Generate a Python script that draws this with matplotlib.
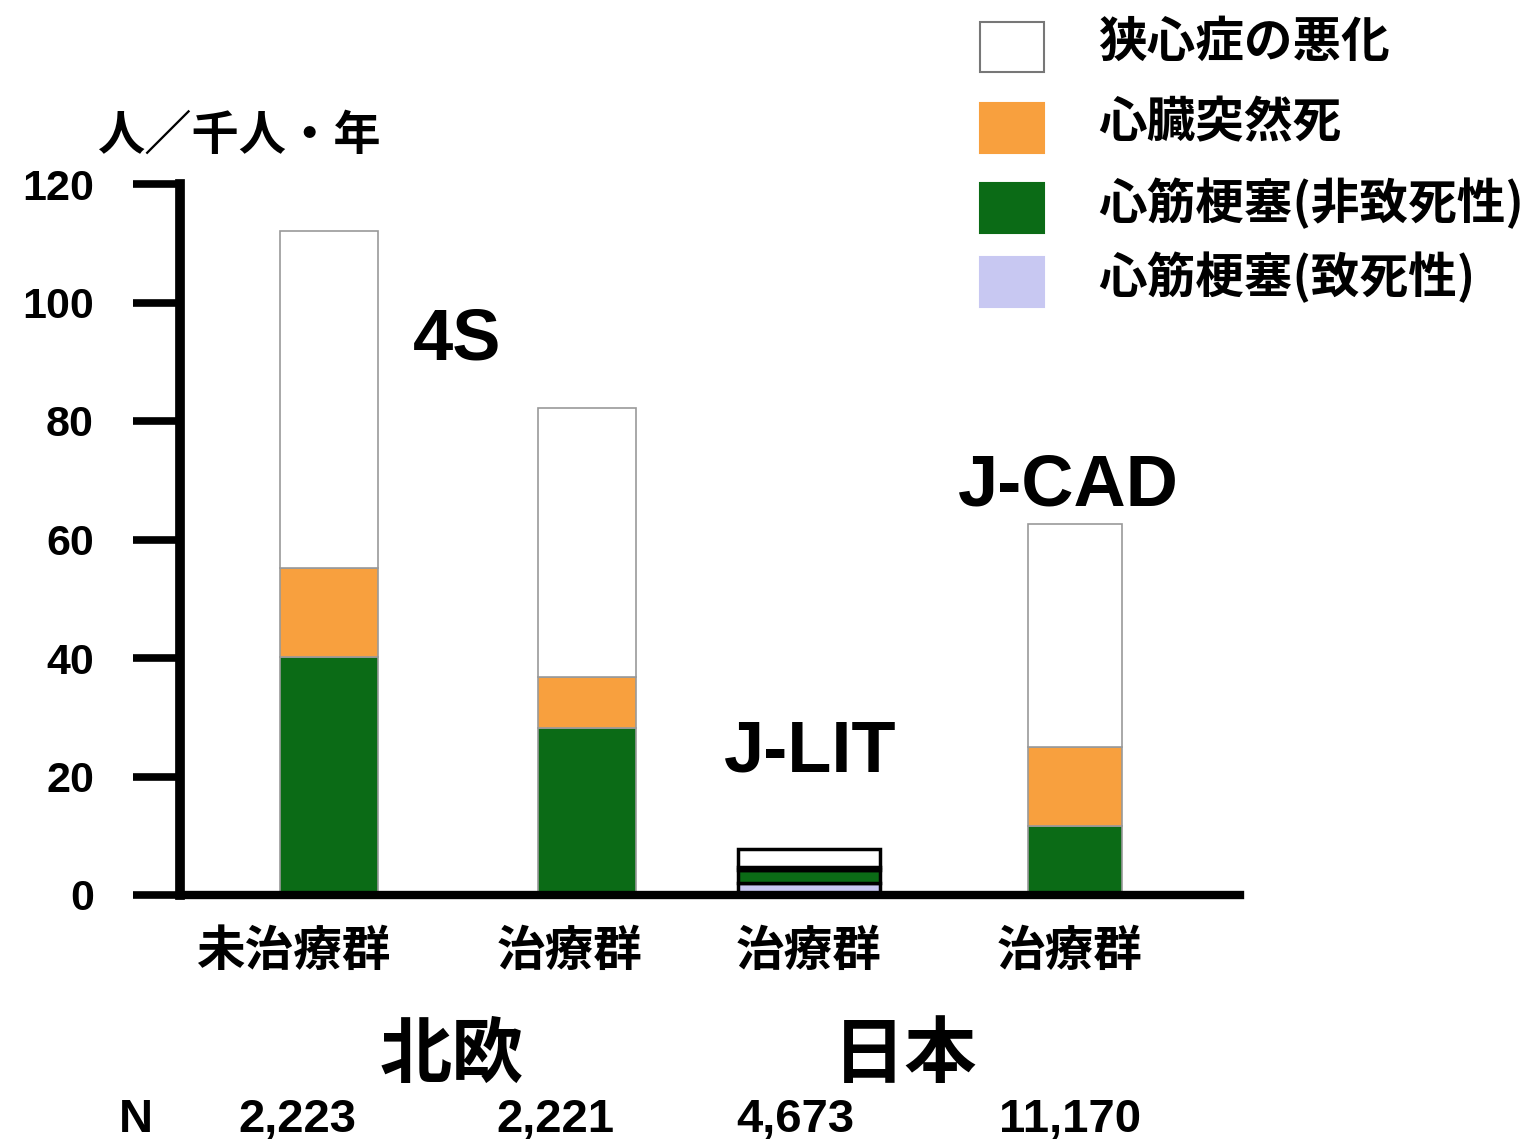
import matplotlib.pyplot as plt

plt.rcParams['font.family'] = ['Noto Sans CJK JP', 'DejaVu Sans']

# 人／千人・年 per event type, stacked bottom to top
groups = ['未治療群', '治療群', '治療群', '治療群']
mi_fatal = [0.0, 0.0, 2.0, 0.0]
mi_nonfatal = [40.2, 28.2, 2.2, 11.6]
sudden_death = [15.0, 8.6, 0.6, 13.4]
angina_worse = [56.9, 45.4, 3.0, 37.6]
n_subjects = ['2,223', '2,221', '4,673', '11,170']

series = [
    ('心筋梗塞(致死性)', mi_fatal, '#c8c8f2'),
    ('心筋梗塞(非致死性)', mi_nonfatal, '#0b6b16'),
    ('心臓突然死', sudden_death, '#f8a03e'),
    ('狭心症の悪化', angina_worse, 'white'),
]

centers = [1.49, 4.07, 6.29, 8.95]
widths = [0.98, 0.98, 1.42, 0.94]
edges = ['#999999', '#999999', 'black', '#999999']
label_x = [1.13, 3.90, 6.29, 8.90]

latin = ['Liberation Sans', 'DejaVu Sans']

fig = plt.figure(figsize=(15.36, 11.43), dpi=100)
ax = fig.add_axes([180 / 1536, 248 / 1143, 1060 / 1536, 711 / 1143])

bottom = [0.0] * 4
for name, vals, color in series:
    for i in range(4):
        if vals[i] > 0:
            ax.bar(centers[i], vals[i], width=widths[i], bottom=bottom[i],
                   color=color, edgecolor=edges[i],
                   linewidth=2.5 if edges[i] == 'black' else 1.2, zorder=2)
        bottom[i] += vals[i]

ax.set_xlim(0, 10.6)
ax.set_ylim(0, 120)
ax.set_xticks([])
ax.set_yticks(range(0, 121, 20))
ax.tick_params(axis='y', direction='out', length=34, width=5.5, pad=28,
               labelsize=31)
for lab in ax.get_yticklabels():
    lab.set_fontweight('bold')
    lab.set_family(latin)
    lab.set_verticalalignment('center_baseline')
ax.spines['top'].set_visible(False)
ax.spines['right'].set_visible(False)
ax.spines['left'].set_linewidth(7)
ax.spines['bottom'].set_linewidth(6)
ax.spines['bottom'].set_zorder(3)
ax.spines['left'].set_capstyle('projecting')

for x, g in zip(label_x, groups):
    ax.text(x, -0.08, g, transform=ax.get_xaxis_transform(), ha='center',
            va='center', fontsize=35, fontweight='bold')

def px(x, y):
    return x / 1536, 1 - y / 1143

fig.text(*px(240, 136), '人／千人・年', ha='center', va='center', fontsize=34,
         fontweight='bold')

study_font = dict(family=latin, fontweight='bold', fontsize=52,
                  ha='center', va='center')
fig.text(*px(457, 340), '4S', **study_font)
fig.text(*px(810, 752), 'J-LIT', **study_font)
fig.text(*px(1068, 487), 'J-CAD', **study_font)

fig.text(*px(452, 1056), '北欧', ha='center', va='center', fontsize=52,
         fontweight='bold')
fig.text(*px(905, 1056), '日本', ha='center', va='center', fontsize=52,
         fontweight='bold')

n_x = [297, 555, 795, 1070]
fig.text(*px(136, 1120), 'N', ha='center', va='center', fontsize=34,
         fontweight='bold', family=latin)
for x, n in zip(n_x, n_subjects):
    fig.text(*px(x, 1120), n, ha='center', va='center', fontsize=34,
             fontweight='bold', family=latin)

# legend drawn as boxes + labels in figure space
leg_rows = [
    ('狭心症の悪化', 'white', 47),
    ('心臓突然死', '#f8a03e', 128),
    ('心筋梗塞(非致死性)', '#0b6b16', 208),
    ('心筋梗塞(致死性)', '#c8c8f2', 282),
]
for name, color, yc in leg_rows:
    x0, y0 = px(980, yc + 25)
    fig.patches.append(plt.Rectangle((x0, y0), 64 / 1536, 50 / 1143,
                                     transform=fig.transFigure,
                                     facecolor=color,
                                     edgecolor='#777777' if color == 'white' else color,
                                     linewidth=1.5))
    fig.text(*px(1098, yc - 5), name, ha='left', va='center', fontsize=35,
             fontweight='bold')

fig.savefig('out.png', dpi=100, facecolor='white')
